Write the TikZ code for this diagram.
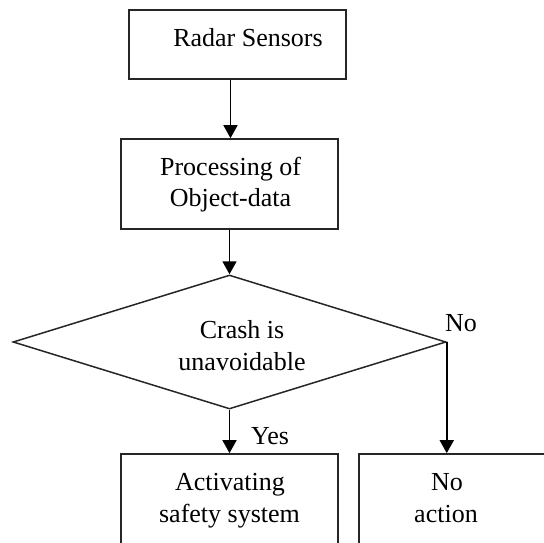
\documentclass[tikz,border=0pt]{standalone}
\usepackage{fontspec}
\setmainfont{Liberation Serif}
\usetikzlibrary{shapes.geometric,arrows.meta}
\begin{document}
\begin{tikzpicture}[x=1pt,y=-1pt,
  box/.style={draw=black!85,line width=1.7pt,rectangle,inner sep=0pt},
  dia/.style={draw=black!85,line width=1.5pt,diamond,inner sep=0pt},
  txt/.style={font=\fontsize{26}{32}\selectfont,align=center,inner sep=0pt,anchor=base},
  conn/.style={line width=1.8pt,-{Triangle[length=13pt,width=14pt]}}]
\useasboundingbox (0,0) rectangle (544,543);
\clip (0,0) rectangle (544,543);
\node[box,minimum width=217pt,minimum height=69pt] (radar) at (237.5,44.5) {};
\node[box,minimum width=217pt,minimum height=90pt] (proc) at (229.5,184) {};
\node[dia,minimum width=433pt,minimum height=134pt] (dec) at (229.5,342) {};
\node[box,minimum width=217pt,minimum height=110pt] (act) at (229.5,509) {};
\node[box,minimum width=211pt,minimum height=110pt] (noact) at (464.5,509) {};
\node[txt] (radart) at (248,47) {Radar Sensors};
\node[txt] (proct1) at (230.5,175) {Processing of};
\node[txt] (proct2) at (230.5,206) {Object-data};
\node[txt] (dect1) at (242,338) {Crash is};
\node[txt] (dect2) at (242,370) {unavoidable};
\node[txt] (actt1) at (230,490) {Activating};
\node[txt] (actt2) at (229.5,522) {safety system};
\node[txt] (noactt1) at (447,490) {No};
\node[txt] (noactt2) at (446,522) {action};
\node[txt] (nolbl) at (461,331) {No};
\node[txt] (yeslbl) at (270,444) {Yes};
\draw[conn] (radar.south -| proct1) -- (proc.north -| proct1);
\draw[conn] (proc.south -| dec.north) -- (dec.north);
\draw[conn] (dec.south) -- (act.north -| dec.south);
\draw[conn] (dec.east) -- (dec.east |- noact.north);
\end{tikzpicture}
\end{document}
